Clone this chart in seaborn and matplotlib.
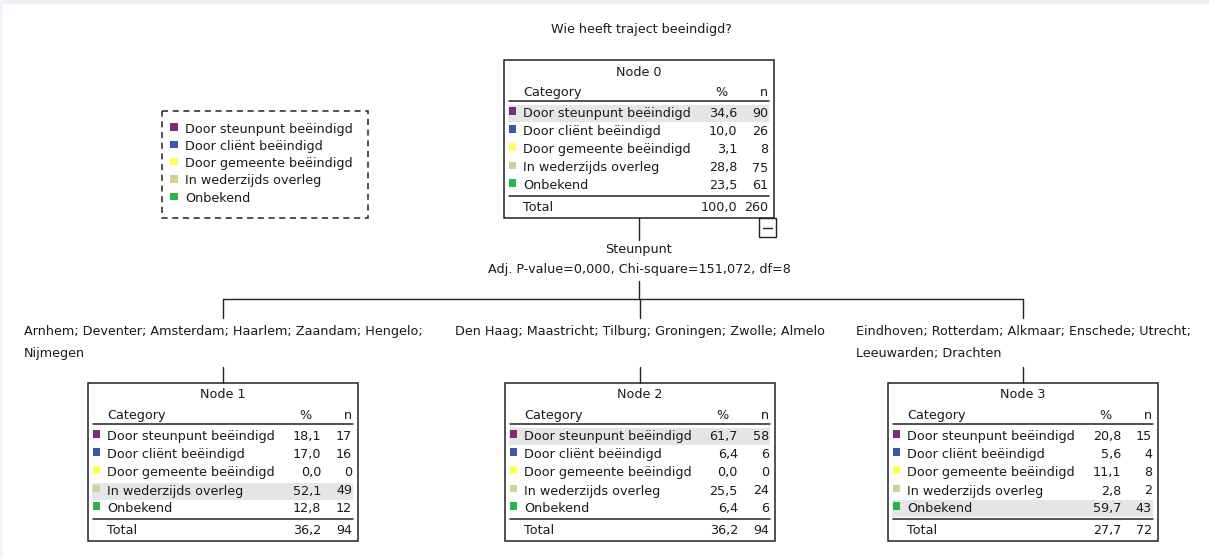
import matplotlib
matplotlib.use("Agg")
import matplotlib.pyplot as plt
from matplotlib.patches import Rectangle
import pandas as pd
import seaborn as sns

# Data
title = "Wie heeft traject beeindigd?"
categories = ["Door steunpunt beëindigd", "Door cliënt beëindigd",
              "Door gemeente beëindigd", "In wederzijds overleg", "Onbekend"]
colors = ["#7f2a80", "#3c55b2", "#ffff5c", "#d5ce98", "#2bb548"]

node_names = ["Node 0", "Node 1", "Node 2", "Node 3"]
node_pct = [[34.6, 10.0, 3.1, 28.8, 23.5],
            [18.1, 17.0, 0.0, 52.1, 12.8],
            [61.7, 6.4, 0.0, 25.5, 6.4],
            [20.8, 5.6, 11.1, 2.8, 59.7]]
node_n = [[90, 26, 8, 75, 61],
          [17, 16, 0, 49, 12],
          [58, 6, 0, 24, 6],
          [15, 4, 8, 2, 43]]
total_pct = [100.0, 36.2, 36.2, 27.7]
total_n = [260, 94, 94, 72]

split_var = "Steunpunt"
split_stats = "Adj. P-value=0,000, Chi-square=151,072, df=8"
branch_labels = ["Arnhem; Deventer; Amsterdam; Haarlem; Zaandam; Hengelo;\nNijmegen",
                 "Den Haag; Maastricht; Tilburg; Groningen; Zwolle; Almelo",
                 "Eindhoven; Rotterdam; Alkmaar; Enschede; Utrecht;\nLeeuwarden; Drachten"]

# Layout (pixels, y down)
node_pos = [(504, 60), (88, 383), (505, 383), (888, 383)]
box_w, box_h = 270, 158
row_dy = [53.5, 71.5, 89.5, 108, 125.5]
FS = 9.2
TXT = "#1a1a1a"


def fmt(v):
    return f"{v:.1f}".replace(".", ",")


sns.set_style("white")
plt.rcParams['font.family'] = ['DejaVu Sans']

fig = plt.figure(figsize=(12.09, 5.59), dpi=100)
ax = fig.add_axes([0, 0, 1, 1])

# colour squares, drawn with seaborn
sq = []
for k, (left, top) in enumerate(node_pos):
    for i, cat in enumerate(categories):
        sq.append({'x': left + 8.5, 'y': top + row_dy[i] - 2.5, 'category': cat})
for i, cat in enumerate(categories):
    sq.append({'x': 174, 'y': 127 + 17.3 * i, 'category': cat})
sq = pd.DataFrame(sq)
sns.scatterplot(data=sq, x='x', y='y', hue='category', palette=dict(zip(categories, colors)),
                marker='s', s=27, linewidth=0, legend=False, ax=ax, zorder=5)

ax.set_xlim(0, 1209)
ax.set_ylim(559, 0)
ax.axis('off')

# window edge tint
ax.add_patch(Rectangle((0, 0), 1209, 4, color="#eef0f7", lw=0, zorder=0))
ax.add_patch(Rectangle((0, 0), 3, 559, color="#f1f2f8", lw=0, zorder=0))

ax.text(641, 30, title, ha='center', va='center', fontsize=FS, color=TXT)

# nodes
for k, (left, top) in enumerate(node_pos):
    ax.add_patch(Rectangle((left, top), box_w, box_h, fill=False, ec="#222222", lw=1.1, zorder=3))
    hi = node_n[k].index(max(node_n[k]))
    ax.add_patch(Rectangle((left + 4, top + row_dy[hi] - 8.5), 261, 17,
                           color="#e6e6e6", lw=0, zorder=1))
    ax.text(left + box_w / 2, top + 12, node_names[k], ha='center', va='center', fontsize=FS, color=TXT)
    ax.text(left + 19, top + 32.5, "Category", ha='left', va='center', fontsize=FS, color=TXT)
    ax.text(left + 217, top + 32.5, "%", ha='center', va='center', fontsize=FS, color=TXT)
    ax.text(left + 264, top + 32.5, "n", ha='right', va='center', fontsize=FS, color=TXT)
    ax.plot([left + 5, left + 265], [top + 40.5, top + 40.5], color="#222222", lw=1.1, zorder=4)
    for i, cat in enumerate(categories):
        y = top + row_dy[i]
        ax.text(left + 19, y, cat, ha='left', va='center', fontsize=FS, color=TXT, zorder=6)
        ax.text(left + 233, y, fmt(node_pct[k][i]), ha='right', va='center', fontsize=FS, color=TXT, zorder=6)
        ax.text(left + 264, y, str(node_n[k][i]), ha='right', va='center', fontsize=FS, color=TXT, zorder=6)
    ax.plot([left + 5, left + 265], [top + 135.5, top + 135.5], color="#222222", lw=1.1, zorder=4)
    ax.text(left + 19, top + 147.5, "Total", ha='left', va='center', fontsize=FS, color=TXT)
    ax.text(left + 233, top + 147.5, fmt(total_pct[k]), ha='right', va='center', fontsize=FS, color=TXT)
    ax.text(left + 264, top + 147.5, str(total_n[k]), ha='right', va='center', fontsize=FS, color=TXT)

# collapse button under root node
l0, t0 = node_pos[0]
ax.add_patch(Rectangle((l0 + 255, t0 + box_h), 17, 19, fill=False, ec="#222222", lw=1.0, zorder=3))
ax.plot([l0 + 259, l0 + 268], [t0 + box_h + 9.5] * 2, color="#222222", lw=1.0)

# split info and connectors
root_cx = l0 + box_w / 2
ax.plot([root_cx, root_cx], [t0 + box_h, 240], color="#222222", lw=1.0)
ax.text(root_cx, 250, split_var, ha='center', va='center', fontsize=FS, color=TXT)
ax.text(root_cx, 270, split_stats, ha='center', va='center', fontsize=FS, color=TXT)
ax.plot([root_cx, root_cx], [281, 299], color="#222222", lw=1.0)
child_cx = [left + box_w / 2 for left, top in node_pos[1:]]
ax.plot([child_cx[0], child_cx[-1]], [299, 299], color="#222222", lw=1.0)
for cx, lab in zip(child_cx, branch_labels):
    ax.plot([cx, cx], [299, 318], color="#222222", lw=1.0)
    ax.text(cx, 324.5, lab, ha='center', va='top', multialignment='left',
            fontsize=FS, color=TXT, linespacing=1.95)
    ax.plot([cx, cx], [367, 383], color="#222222", lw=1.0)

# legend box
ax.add_patch(Rectangle((162, 111), 206, 107, fill=False, ec="#222222", lw=1.1,
                       linestyle=(0, (4, 3)), zorder=3))
for i, cat in enumerate(categories):
    ax.text(185, 129 + 17.3 * i, cat, ha='left', va='center', fontsize=FS, color=TXT)

fig.savefig("out.png", dpi=100)
